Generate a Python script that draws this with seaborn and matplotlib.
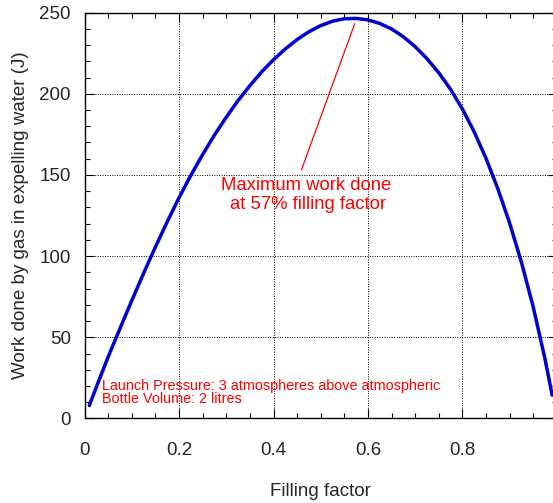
import pandas as pd
import seaborn as sns
from matplotlib import pyplot as plt
from matplotlib.ticker import MultipleLocator

# values
filling = [0.01, 0.025, 0.05, 0.075, 0.10, 0.125, 0.15, 0.175, 0.20, 0.225,
           0.25, 0.275, 0.30, 0.325, 0.35, 0.375, 0.40, 0.425, 0.45, 0.475,
           0.50, 0.525, 0.55, 0.575, 0.60, 0.625, 0.65, 0.675, 0.70, 0.725,
           0.75, 0.775, 0.80, 0.825, 0.85, 0.875, 0.90, 0.925, 0.95, 0.975, 0.99]
work = [8, 19.5, 38, 55.5, 72.7, 89.5, 105.7, 121.2, 136, 149.8,
        162.6, 174.6, 185.6, 195.8, 205, 213.5, 221, 227.6, 233.4, 238.2,
        242, 244.7, 246.2, 246.4, 245.5, 243.3, 239.9, 235.1, 229, 221.6,
        212.9, 202.7, 190.6, 176.5, 160.2, 141.5, 120.3, 96.2, 68.6, 36.5, 14.4]

x_ticks = [0, 0.2, 0.4, 0.6, 0.8]
y_ticks = [0, 50, 100, 150, 200, 250]

sns.set_style("ticks")
plt.rcParams['font.family'] = ['Liberation Sans', 'DejaVu Sans']

data = pd.DataFrame({"Filling factor": filling, "Work": work})

fig = plt.figure(figsize=(5.53, 5.03), dpi=100)
# right spine sits just past the image edge, as in the reference
ax = fig.add_axes([0.153, 0.168, 0.854, 0.807])
sns.lineplot(data, x="Filling factor", y="Work", color="#0000d0", linewidth=2.5, ax=ax)

ax.set_xlim(0, 1)
ax.set_ylim(0, 250)
ax.set_xticks(x_ticks)
ax.set_xticklabels([f"{t:g}" for t in x_ticks])
ax.set_yticks(y_ticks)
ax.xaxis.set_minor_locator(MultipleLocator(0.05))
ax.yaxis.set_minor_locator(MultipleLocator(10))
ax.tick_params(which="both", direction="in", top=True, right=True, color="black", width=0.8)
ax.tick_params(which="major", length=6.5, labelsize=13.5)
ax.tick_params(which="minor", length=3.3)
ax.tick_params(axis="x", which="major", pad=17)
ax.tick_params(axis="y", which="major", pad=10)
for s in ax.spines.values():
    s.set_color("black")
    s.set_linewidth(1.0)

ax.grid(True, which="major", color="black", linestyle=(0, (1, 1.5)), linewidth=0.7)

ax.set_xlabel("Filling factor", fontsize=13.5, labelpad=17)
ax.set_ylabel("Work done by gas in expelling water (J)", fontsize=13.5, labelpad=7)

ax.plot([0.459, 0.572], [153, 243.2], color="red", linewidth=0.9)
ax.text(0.468, 141, "Maximum work done", color="red", fontsize=13.3, ha="center", va="baseline")
ax.text(0.474, 129, "at 57% filling factor", color="red", fontsize=13.3, ha="center", va="baseline")

ax.text(0.037, 17.5, "Launch Pressure: 3 atmospheres above atmospheric",
        color="red", fontsize=10.4, ha="left", va="baseline")
ax.text(0.037, 9.5, "Bottle Volume: 2 litres", color="red", fontsize=10.4, ha="left", va="baseline")

fig.savefig("out.png", dpi=100)
